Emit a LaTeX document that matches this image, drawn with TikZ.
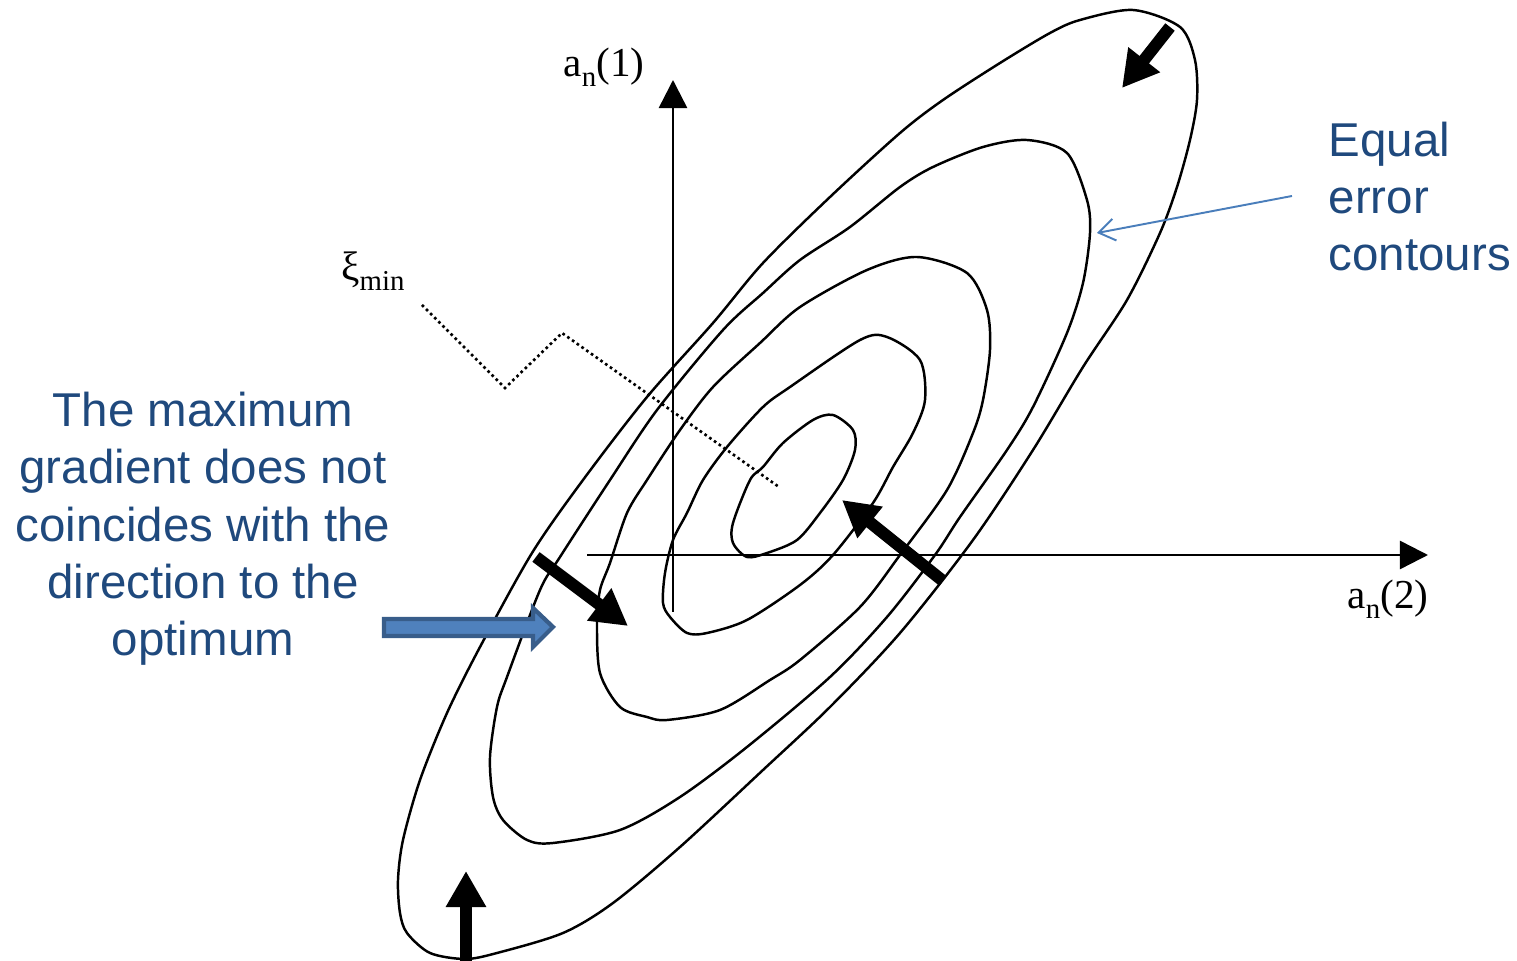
\documentclass[tikz,border=0pt]{standalone}
\usepackage{fontspec}
\setmainfont{Liberation Serif}
\setsansfont{Liberation Sans}
\usetikzlibrary{arrows.meta}
\definecolor{txtblue}{HTML}{1F497D}
\definecolor{linkblue}{HTML}{4A7EBB}
\definecolor{fillblue}{HTML}{4F81BD}
\definecolor{edgeblue}{HTML}{385D8A}
\newcommand\subn[1]{\raisebox{-0.1cm}{\fontsize{8.2}{9}\selectfont #1}}

\begin{document}
\begin{tikzpicture}[x=0.01cm,y=-0.01cm,
  contour/.style={draw,line width=0.7pt},
  axis/.style={-{Triangle[length=0.28cm,width=0.28cm]},line width=0.7pt},
  grad/.style={-{Triangle[length=0.36cm,width=0.38cm]},line width=0.12cm},
  lbl/.style={font=\fontsize{11.7}{14}\selectfont,inner sep=0pt},
  note/.style={text=txtblue,font=\sffamily\fontsize{13.5}{16.3}\selectfont,inner sep=0pt},
  pointer/.style={-{Straight Barb[length=0.16cm,width=0.22cm]},linkblue,line width=0.55pt},
  minline/.style={line width=0.75pt,dash pattern=on 0.75pt off 0.9pt}]
\useasboundingbox (0,0) rectangle (1517,961);

\draw[contour] plot[smooth cycle] coordinates {(833,415) (853,430) (855,450) (843,480) (820,513) (797,540) (767,553) (747,557) (733,543) (733,523) (750,480) (763,467) (783,443) (813,420)};
\draw[contour] plot[smooth cycle] coordinates {(887,337) (920,360) (925,400) (913,433) (893,467) (873,503) (833,555) (800,585) (747,620) (707,633) (687,633) (670,617) (663,603) (665,573) (673,540) (687,513) (703,480) (727,447) (763,407) (790,387) (860,340)};
\draw[contour] plot[smooth cycle] coordinates {(917,257) (967,273) (987,310) (990,350) (983,400) (973,433) (947,490) (900,555) (860,607) (800,660) (770,680) (720,710) (667,720) (647,717) (620,707) (600,673) (597,623) (600,590) (610,563) (627,513) (647,480) (680,430) (713,387) (760,343) (800,307) (867,270)};
\draw[contour] plot[smooth cycle] coordinates {(1027,140) (1067,153) (1087,200) (1090,233) (1083,283) (1067,333) (1033,407) (1007,450) (960,517) (935,555) (887,617) (830,677) (747,747) (680,797) (620,830) (553,843) (527,840) (503,820) (493,797) (490,757) (497,707) (507,677) (540,590) (560,557) (610,480) (657,410) (723,330) (763,293) (800,260) (850,227) (900,187) (933,167) (983,147)};
\draw[contour] plot[smooth cycle] coordinates {(1133,10) (1180,27) (1195,60) (1197,100) (1190,140) (1177,187) (1160,233) (1127,300) (1083,367) (1033,450) (973,540) (900,633) (830,707) (763,770) (680,847) (613,903) (563,933) (497,953) (465,959) (430,953) (407,933) (400,913) (398,880) (403,840) (420,780) (447,713) (480,647) (532,553) (583,480) (647,397) (713,323) (763,263) (830,197) (900,133) (943,100) (1000,63) (1050,33) (1080,20)};

\coordinate (v0) at (673,612);
\coordinate (v1) at (673,80);
\coordinate (h0) at (587,555);
\coordinate (h1) at (1428,555);
\draw[axis] (v0) -- (v1);
\draw[axis] (h0) -- (h1);
\node[lbl] (ax1) at (604,67) {a\subn{n}(1)};
\node[lbl] (ax2) at (1388,599) {a\subn{n}(2)};

\node[lbl] (ximin) at (373,271) {ξ\subn{min}};
\coordinate (m0) at (422,305);
\coordinate (mv) at (505,388);
\coordinate (mp) at (562,333);
\coordinate (m1) at (779,487);
\draw[minline] (m0) -- (mv) -- (mp) -- (m1);

\coordinate (g1s) at (1170,27);
\coordinate (g1e) at (1122,88);
\coordinate (g2s) at (466,961);
\coordinate (g2e) at (466,871);
\coordinate (g3s) at (536,557);
\coordinate (g3e) at (628,626);
\coordinate (g4s) at (943,581);
\coordinate (g4e) at (842,500);
\draw[grad] (g1s) -- (g1e);
\draw[grad] (g2s) -- (g2e);
\draw[grad] (g3s) -- (g3e);
\draw[grad] (g4s) -- (g4e);

\node[note,align=left,anchor=north west] (eq) at (1328,121) {Equal\\error\\contours};
\coordinate (p0) at (1292,196);
\coordinate (p1) at (1097,233);
\draw[pointer] (p0) -- (p1);

\node[note,align=center] (maxg) at (203,529) {The maximum\\gradient does not\\coincides with the\\direction to the\\optimum};
\filldraw[fill=fillblue,draw=edgeblue,line width=1.2pt] (384,619) -- (533,619) -- (533,608) -- (553,627) -- (533,647) -- (533,636) -- (384,636) -- cycle;
\end{tikzpicture}
\end{document}
